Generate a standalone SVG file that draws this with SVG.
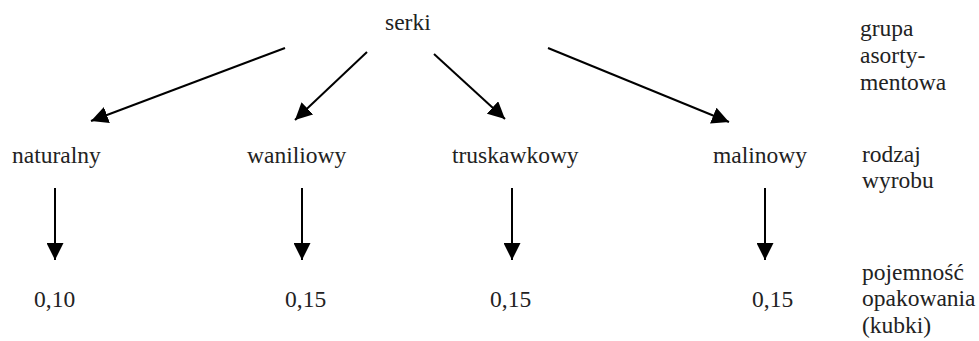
<svg xmlns="http://www.w3.org/2000/svg" width="979" height="341" viewBox="0 0 979 341">
  <style>
    .lbl { font-size: 23.5px; fill: #222; }
  </style>
  <defs>
    <marker id="head" viewBox="0 0 10 10" refX="10" refY="5" markerWidth="17" markerHeight="17" markerUnits="userSpaceOnUse" orient="auto">
      <path d="M0,0 L10,5 L0,10 z" fill="#000"/>
    </marker>
  </defs>
  <rect width="979" height="341" fill="#fff"/>

  <!-- connectors -->
  <g id="connectors" stroke="#000" stroke-width="2">
    <line x1="285" y1="48" x2="91" y2="121" marker-end="url(#head)"/>
    <line x1="367" y1="52" x2="295" y2="120" marker-end="url(#head)"/>
    <line x1="434" y1="54" x2="505" y2="119" marker-end="url(#head)"/>
    <line x1="548" y1="48" x2="729" y2="122" marker-end="url(#head)"/>
    <line x1="55" y1="188" x2="55" y2="260" marker-end="url(#head)"/>
    <line x1="302" y1="188" x2="302" y2="260" marker-end="url(#head)"/>
    <line x1="512" y1="188" x2="512" y2="260" marker-end="url(#head)"/>
    <line x1="765" y1="188" x2="765" y2="260" marker-end="url(#head)"/>
  </g>

  <g class="lbl" font-family="'Liberation Serif', 'DejaVu Serif', 'Times New Roman', serif">
    <!-- root -->
    <g id="node-serki"><text x="385" y="30">serki</text></g>

    <!-- product kinds -->
    <g id="node-naturalny"><text x="12" y="163">naturalny</text></g>
    <g id="node-waniliowy"><text x="247" y="163">waniliowy</text></g>
    <g id="node-truskawkowy"><text x="452" y="163">truskawkowy</text></g>
    <g id="node-malinowy"><text x="713" y="163">malinowy</text></g>

    <!-- package sizes -->
    <g id="node-size-1"><text x="34" y="307">0,10</text></g>
    <g id="node-size-2"><text x="285" y="307">0,15</text></g>
    <g id="node-size-3"><text x="490" y="307">0,15</text></g>
    <g id="node-size-4"><text x="752" y="307">0,15</text></g>

    <!-- level labels -->
    <g id="label-level-1">
      <text x="860" y="36">grupa</text>
      <text x="860" y="63">asorty-</text>
      <text x="860" y="90">mentowa</text>
    </g>
    <g id="label-level-2">
      <text x="862" y="162">rodzaj</text>
      <text x="862" y="188">wyrobu</text>
    </g>
    <g id="label-level-3">
      <text x="862" y="280">pojemność</text>
      <text x="862" y="306">opakowania</text>
      <text x="862" y="333">(kubki)</text>
    </g>
  </g>
</svg>
